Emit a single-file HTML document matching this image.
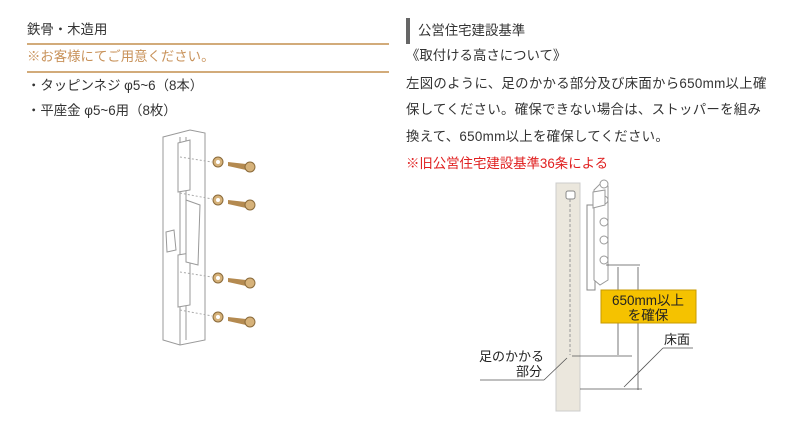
<!DOCTYPE html>
<html><head><meta charset="utf-8"><style>
body{margin:0;width:800px;height:421px;background:#fff;position:relative;overflow:hidden;font-family:"Liberation Sans","Noto Sans CJK JP",sans-serif;color:#333}
.t{position:absolute;font-size:13.4px;line-height:16px;white-space:nowrap}
.hl{position:absolute;left:27px;width:362px;height:2px;background:#d2ab7a}
</style></head><body>
<div class="t" style="left:27px;top:22px">鉄骨・木造用</div>
<div class="hl" style="top:43px"></div>
<div class="t" style="left:27px;top:49px;color:#c8925a">※お客様にてご用意ください。</div>
<div class="hl" style="top:71px"></div>
<div class="t" style="left:27px;top:78px">・タッピンネジ φ5~6（8本）</div>
<div class="t" style="left:27px;top:103px">・平座金 φ5~6用（8枚）</div>

<div style="position:absolute;left:406px;top:18px;width:4px;height:26px;background:#666"></div>
<div class="t" style="left:418px;top:23px">公営住宅建設基準</div>
<div class="t" style="left:406px;top:48px">《取付ける高さについて》</div>
<div class="t" style="left:406px;top:76px;letter-spacing:0.3px">左図のように、足のかかる部分及び床面から650mm以上確</div>
<div class="t" style="left:406px;top:102px;letter-spacing:0.3px">保してください。確保できない場合は、ストッパーを組み</div>
<div class="t" style="left:406px;top:129px;letter-spacing:0.3px">換えて、650mm以上を確保してください。</div>
<div class="t" style="left:406px;top:156px;color:#e02020">※旧公営住宅建設基準36条による</div>

<svg style="position:absolute;left:0;top:0" width="800" height="421">
<g fill="#fff" stroke="#999" stroke-width="1">
<path d="M163,137 L190,130 L205,133 L205,340 L180,345 L163,340 Z"/>
<line x1="180" y1="137" x2="180" y2="345"/><line x1="186" y1="137" x2="186" y2="340"/>
<path d="M178,143 L190,140 L190,190 L178,192 Z"/><path d="M178,255 L190,253 L190,305 L178,307 Z"/>
<path d="M186,200 L200,205 L198,265 L186,262 Z"/>
<path d="M166,232 L174,230 L176,250 L167,252 Z"/>
</g>
<g stroke="#aaa" stroke-dasharray="2,2"><line x1="180" y1="157" x2="212" y2="162"/><line x1="180" y1="193" x2="212" y2="199"/><line x1="180" y1="272" x2="212" y2="277"/><line x1="180" y1="310" x2="212" y2="316"/></g>
<g>
<g><circle cx="218" cy="162" r="5" fill="#d6b27a" stroke="#8a6a3a"/><circle cx="218" cy="162" r="2" fill="#fff"/><path d="M228,162 L246,164 L246,170 L228,166Z" fill="#b48a50"/><circle cx="250" cy="167" r="5" fill="#d6b27a" stroke="#8a6a3a"/></g>
<g transform="translate(0,38)"><circle cx="218" cy="162" r="5" fill="#d6b27a" stroke="#8a6a3a"/><circle cx="218" cy="162" r="2" fill="#fff"/><path d="M228,162 L246,164 L246,170 L228,166Z" fill="#b48a50"/><circle cx="250" cy="167" r="5" fill="#d6b27a" stroke="#8a6a3a"/></g>
<g transform="translate(0,116)"><circle cx="218" cy="162" r="5" fill="#d6b27a" stroke="#8a6a3a"/><circle cx="218" cy="162" r="2" fill="#fff"/><path d="M228,162 L246,164 L246,170 L228,166Z" fill="#b48a50"/><circle cx="250" cy="167" r="5" fill="#d6b27a" stroke="#8a6a3a"/></g>
<g transform="translate(0,155)"><circle cx="218" cy="162" r="5" fill="#d6b27a" stroke="#8a6a3a"/><circle cx="218" cy="162" r="2" fill="#fff"/><path d="M228,162 L246,164 L246,170 L228,166Z" fill="#b48a50"/><circle cx="250" cy="167" r="5" fill="#d6b27a" stroke="#8a6a3a"/></g>
</g>

<rect x="556" y="183" width="24" height="228" fill="#ebe7dd" stroke="#ccc"/>
<rect x="566" y="191" width="9" height="8" rx="2" fill="#fff" stroke="#888"/>
<line x1="570" y1="199" x2="570" y2="355" stroke="#999" stroke-dasharray="3,2"/>
<rect x="587" y="205" width="8" height="85" fill="#fff" stroke="#888"/>
<path d="M594,190 L600,184 L608,186 L608,280 L600,285 L594,280Z" fill="#fff" stroke="#999"/>
<g fill="#fff" stroke="#999"><circle cx="604" cy="184" r="4"/><circle cx="604" cy="200" r="4"/><circle cx="604" cy="222" r="4"/><circle cx="604" cy="240" r="4"/><circle cx="604" cy="260" r="4"/></g>
<path d="M593,192 L605,190 L605,205 L593,208Z" fill="#fff" stroke="#999"/>
<g stroke="#555" stroke-width="0.8" fill="none">
<line x1="606" y1="265" x2="640" y2="265"/>
<line x1="618" y1="267" x2="618" y2="355"/>
<line x1="638" y1="267" x2="638" y2="390"/>
<line x1="572" y1="356" x2="632" y2="356"/>
<line x1="580" y1="389" x2="642" y2="389"/>
<line x1="663" y1="348" x2="624" y2="387"/><line x1="663" y1="348" x2="693" y2="348"/>
<line x1="480" y1="380" x2="544" y2="380"/><line x1="544" y1="380" x2="567" y2="358"/>
</g>
<rect x="601" y="290" width="95" height="33" fill="#f5c200" stroke="#c79a00"/>
<text x="648" y="305" font-size="13.5" text-anchor="middle" fill="#222" font-family="Liberation Sans,Noto Sans CJK JP,sans-serif">650mm以上</text>
<text x="648" y="320" font-size="13.5" text-anchor="middle" fill="#222" font-family="Liberation Sans,Noto Sans CJK JP,sans-serif">を確保</text>
<text x="664" y="344" font-size="13" fill="#222" font-family="Liberation Sans,Noto Sans CJK JP,sans-serif">床面</text>
<text x="479" y="361" font-size="13" fill="#222" font-family="Liberation Sans,Noto Sans CJK JP,sans-serif">足のかかる</text>
<text x="516" y="376" font-size="13" fill="#222" font-family="Liberation Sans,Noto Sans CJK JP,sans-serif">部分</text>
</svg>
</body></html>
